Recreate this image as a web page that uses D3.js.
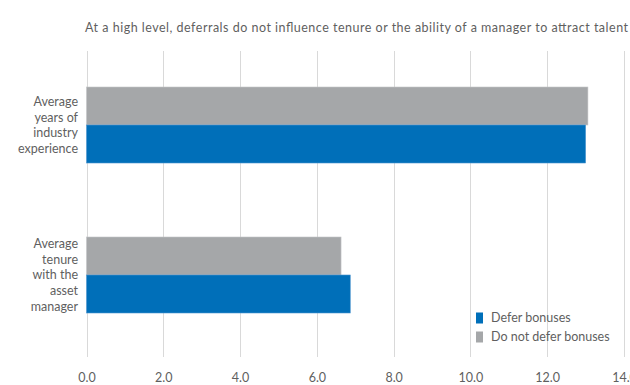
<!DOCTYPE html>
<html>
<head>
<meta charset="utf-8">
<script src="https://cdn.jsdelivr.net/npm/d3@7"></script>
<style>
  body { margin: 0; background: #fff; }
  text { font-family: Lato, "Open Sans", sans-serif; fill: #5f5f5f; }
</style>
</head>
<body>
<div id="chart"></div>
<script>
// chart data
const categories = ["Average years of industry experience", "Average tenure with the asset manager"];
const categoryLines = [["Average", "years of", "industry", "experience"], ["Average", "tenure", "with the", "asset", "manager"]];
const seriesNames = ["Do not defer bonuses", "Defer bonuses"];
const doNotDefer = [13.06, 6.63];
const defer = [13.0, 6.87];
const xTicks = [0, 2, 4, 6, 8, 10, 12, 14];
const title = "At a high level, deferrals do not influence tenure or the ability of a manager to attract talent";

const colors = {"Defer bonuses": "#006fb9", "Do not defer bonuses": "#a5a7a9"};

const width = 630, height = 385;
const margin = {top: 50, right: 6, bottom: 35, left: 86.5};

const svg = d3.select("#chart")
  .append("svg")
    .attr("width", width)
    .attr("height", height);

// x scale
const x = d3.scaleLinear()
  .domain([0, 14])
  .range([margin.left, 624]);

// y band scale for the categories
const y = d3.scaleBand()
  .domain(categories)
  .range([margin.top, margin.top + 300])
  .paddingInner(0.4933)
  .paddingOuter(0.2467);

// inner band for the two series
const ySub = d3.scaleBand()
  .domain(seriesNames)
  .range([0, y.bandwidth()]);

// gridlines
svg.append("g")
  .selectAll("line")
  .data(xTicks)
  .join("line")
    .attr("x1", d => Math.round(x(d)) + 0.5)
    .attr("x2", d => Math.round(x(d)) + 0.5)
    .attr("y1", 51)
    .attr("y2", 357)
    .attr("stroke", "#d9d9d9")
    .attr("stroke-width", 1);

// x axis labels
const xAxis = svg.append("g")
  .attr("transform", `translate(0, 370)`)
  .call(d3.axisBottom(x).tickValues(xTicks).tickFormat(d3.format(".1f")).tickSize(0));
xAxis.select(".domain").remove();
xAxis.selectAll("text")
  .attr("font-size", 12.5)
  .attr("font-family", "Lato, sans-serif")
  .attr("fill", "#5f5f5f");

// bars
const rows = categories.map((c, i) => ({
  cat: c,
  values: [
    {name: "Do not defer bonuses", value: doNotDefer[i]},
    {name: "Defer bonuses", value: defer[i]}
  ]
}));

const groups = svg.append("g")
  .selectAll("g")
  .data(rows)
  .join("g")
    .attr("transform", d => `translate(0, ${y(d.cat)})`);

groups.selectAll("rect")
  .data(d => d.values)
  .join("rect")
    .attr("x", x(0))
    .attr("y", d => ySub(d.name))
    .attr("width", d => x(d.value) - x(0))
    .attr("height", ySub.bandwidth())
    .attr("fill", d => colors[d.name])
    .attr("stroke", d => d.name == "Defer bonuses" ? "#4d95cf" : "#c3c5c7")
    .attr("stroke-width", 0.6);

// category labels (multi-line)
const lineH = 15.7;
categories.forEach((c, i) => {
  const lines = categoryLines[i];
  const cy = y(c) + y.bandwidth() / 2;
  const t = svg.append("text")
    .attr("text-anchor", "end")
    .attr("font-size", 12.5);
  lines.forEach((l, j) => {
    t.append("tspan")
      .attr("x", 78)
      .attr("y", cy + (j - (lines.length - 1) / 2) * lineH)
      .attr("dy", "0.35em")
      .text(l);
  });
});

// title
svg.append("text")
  .attr("x", 85)
  .attr("y", 28)
  .attr("dy", "0.35em")
  .attr("font-size", 12.5)
  .attr("textLength", 543)
  .attr("lengthAdjust", "spacing")
  .text(title);

// legend
const legendItems = ["Defer bonuses", "Do not defer bonuses"];
const legend = svg.append("g")
  .attr("transform", "translate(476, 318)");
legend.selectAll("rect")
  .data(legendItems)
  .join("rect")
    .attr("x", 0)
    .attr("y", (d, i) => i * 19 - 5.5)
    .attr("width", 7)
    .attr("height", 11)
    .attr("fill", d => colors[d]);
legend.selectAll("text")
  .data(legendItems)
  .join("text")
    .attr("x", 15)
    .attr("y", (d, i) => i * 19)
    .attr("dy", "0.35em")
    .attr("font-size", 12.5)
    .text(d => d);
</script>
</body>
</html>
